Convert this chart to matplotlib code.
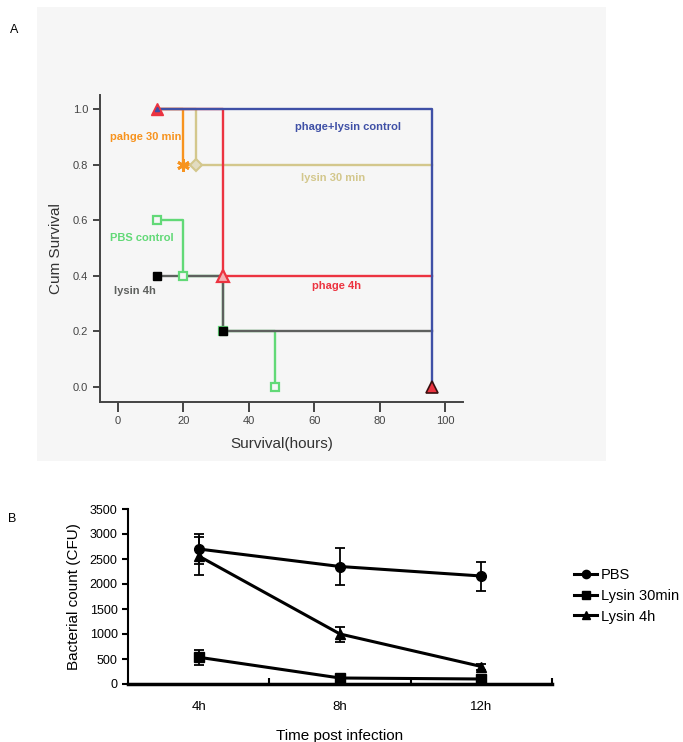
import numpy as np
import matplotlib
matplotlib.use("Agg")
import matplotlib.pyplot as plt
from matplotlib.patches import Rectangle

plt.rcParams['font.family'] = ['Liberation Sans', 'DejaVu Sans']

# ---- panel A: Kaplan-Meier data (time in hours, cumulative survival) ----
ctrl_t = [12, 96]
ctrl_s = [1.0, 0.0]
phage4_t = [12, 32, 96]
phage4_s = [1.0, 0.4, 0.4]
phage30_t = [12, 20, 24]
phage30_s = [1.0, 0.8, 0.8]
lysin30_t = [12, 24, 96]
lysin30_s = [1.0, 0.8, 0.8]
pbs_t = [12, 20, 32, 48]
pbs_s = [0.6, 0.4, 0.2, 0.0]
lysin4_t = [12, 32, 96]
lysin4_s = [0.4, 0.2, 0.2]

# ---- panel B: bacterial counts ----
times = ['4h', '8h', '12h']
pbs_cfu = [2700, 2350, 2160]
pbs_err = [300, 365, 290]
lys30_cfu = [535, 120, 100]
lys30_err = [145, 50, 40]
lys4_cfu = [2560, 1000, 350]
lys4_err = [380, 150, 60]

W, H = 683, 742
fig = plt.figure(figsize=(W / 100, H / 100), dpi=100)


def box(l, t, r, b):
    return [l / W, 1 - b / H, (r - l) / W, (b - t) / H]


# grey background of panel A
bg = box(37, 7, 606, 461)
fig.patches.append(Rectangle((bg[0], bg[1]), bg[2], bg[3], transform=fig.transFigure,
                             facecolor='#f6f6f6', edgecolor='none', zorder=-5))
fig.text(10 / W, 1 - 30 / H, 'A', fontsize=9, va='center')
fig.text(8 / W, 1 - 519 / H, 'B', fontsize=9, va='center')

# ---------------- panel A ----------------
ax = fig.add_axes(box(100, 95, 463, 402))
ax.set_facecolor('none')
blue = '#3f50a6'
red = '#ec3340'
orange = '#f7931e'
tan = '#d3c78c'
green = '#62d977'
grey = '#5e605e'

ax.plot(phage30_t, phage30_s, drawstyle='steps-post', color=orange, lw=1.7, zorder=2)
ax.plot(lysin30_t, lysin30_s, drawstyle='steps-post', color=tan, lw=1.7, zorder=3)
ax.plot(pbs_t, pbs_s, drawstyle='steps-post', color=green, lw=1.7, zorder=2)
ax.plot(lysin4_t, lysin4_s, drawstyle='steps-post', color=grey, lw=1.7, zorder=3)
ax.plot(phage4_t, phage4_s, drawstyle='steps-post', color=red, lw=1.7, zorder=4)
ax.plot(ctrl_t, ctrl_s, drawstyle='steps-post', color=blue, lw=1.7, zorder=5)

# markers
ax.plot(phage30_t[1], phage30_s[1], marker=(6, 2, 0), ms=9, mew=2, color=orange, zorder=6)
ax.plot(lysin30_t[1], lysin30_s[1], marker='D', ms=6, mfc='#e2dcc0', mec=tan, mew=1.5, zorder=6)
ax.plot(pbs_t, pbs_s, 's', ms=6, mfc='#f6f6f6', mec=green, mew=1.6, zorder=6)
ax.plot(lysin4_t[:2], lysin4_s[:2], 's', ms=6, color='black', zorder=6)
ax.plot(phage4_t[0], phage4_s[0], '^', ms=9, mfc=red, mec=red, zorder=7)
ax.plot(phage4_t[0], phage4_s[0], '^', ms=3, color=blue, zorder=8)
ax.plot(phage4_t[1], phage4_s[1], '^', ms=9, mfc='#f4b0b4', mec=red, mew=1.6, zorder=7)
ax.plot(ctrl_t[1], ctrl_s[1], '^', ms=9, mfc=red, mec='#3a1010', mew=1.2, zorder=7)

tkw = dict(fontsize=8, fontweight='bold', va='center', ha='left')
ax.text(54, 0.935, 'phage+lysin control', color=blue, **tkw)
ax.text(-2.4, 0.90, 'pahge 30 min', color=orange, **tkw)
ax.text(56, 0.75, 'lysin 30 min', color=tan, **tkw)
ax.text(-2.4, 0.536, 'PBS control', color=green, **tkw)
ax.text(-1.2, 0.345, 'lysin 4h', color=grey, **tkw)
ax.text(59.3, 0.363, 'phage 4h', color=red, **tkw)

ax.set_xlim(-5.5, 105.5)
ax.set_ylim(-0.054, 1.05)
ax.set_xticks(np.arange(0, 101, 20))
ax.set_yticks(np.arange(0, 1.01, 0.2))
ax.set_yticklabels(['%.1f' % v for v in np.arange(0, 1.01, 0.2)])
for s in ['top', 'right']:
    ax.spines[s].set_visible(False)
for s in ['left', 'bottom']:
    ax.spines[s].set_color('#444444')
    ax.spines[s].set_linewidth(1.4)
ax.tick_params(axis='both', colors='#444444', labelcolor='#444444', labelsize=8,
               width=1.4, length=5)
ax.tick_params(axis='x', length=7, pad=3)
ax.set_xlabel('Survival(hours)', fontsize=11, color='#333333', labelpad=8)
ax.set_ylabel('Cum Survival', fontsize=11, color='#333333', labelpad=7)

# ---------------- panel B ----------------
bx = fig.add_axes(box(128, 509, 552, 684))
xpos = np.arange(1, len(times) + 1)
ekw = dict(color='black', lw=2.2, elinewidth=1.3, capsize=3.5, capthick=1.3, ms=7)
bx.errorbar(xpos, pbs_cfu, yerr=pbs_err, marker='o', label='PBS', **ekw)
bx.errorbar(xpos, lys30_cfu, yerr=lys30_err, marker='s', label='Lysin 30min', **ekw)
bx.errorbar(xpos, lys4_cfu, yerr=lys4_err, marker='^', label='Lysin 4h', **ekw)

bx.set_xlim(0.5, 3.5)
bx.set_ylim(0, 3500)
bx.set_yticks(np.arange(0, 3501, 500))
bx.set_xticks(xpos)
bx.set_xticklabels(times)
bx.set_xticks([1.5, 2.5, 3.5], minor=True)
for s in ['top', 'right']:
    bx.spines[s].set_visible(False)
bx.spines['left'].set_linewidth(1.5)
bx.spines['bottom'].set_linewidth(2.5)
bx.tick_params(axis='y', labelsize=9, width=1.5, length=4)
bx.tick_params(axis='x', which='major', length=0, labelsize=9.5, pad=12)
bx.tick_params(axis='x', which='minor', direction='in', length=4, width=1.5)
bx.set_xlabel('Time post infection', fontsize=11, labelpad=12)
bx.set_ylabel('Bacterial count (CFU)', fontsize=11, labelpad=6)

handles, labels = bx.get_legend_handles_labels()
handles = [h[0] for h in handles]
fig.legend(handles, labels, loc='center left', bbox_to_anchor=(568 / W, 1 - 596 / H),
           frameon=False, fontsize=10.5, handlelength=1.6, handletextpad=0.25,
           labelspacing=0.45, markerscale=0.85, borderaxespad=0)

fig.savefig('out.png', dpi=100)
